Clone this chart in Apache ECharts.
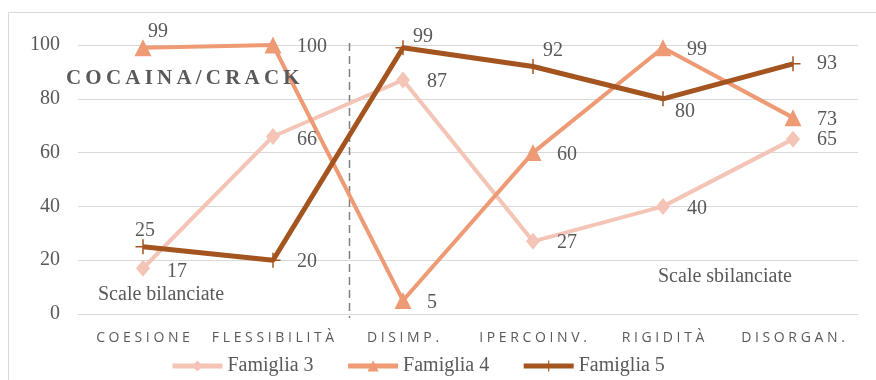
<!DOCTYPE html>
<html>
<head>
<meta charset="utf-8">
<script src="https://cdn.jsdelivr.net/npm/echarts@6/dist/echarts.min.js"></script>
<style>
  html, body { margin: 0; padding: 0; background: #fff; }
  #chart { width: 876px; height: 380px; }
</style>
</head>
<body>
<div id="chart"></div>
<script>
// Scale FACES: categories and family scores
const categories = ['COESIONE', 'FLESSIBILITÀ', 'DISIMP.', 'IPERCOINV.', 'RIGIDITÀ', 'DISORGAN.'];
const famiglia3 = [17, 66, 87, 27, 40, 65];
const famiglia4 = [99, 100, 5, 60, 99, 73];
const famiglia5 = [25, 20, 99, 92, 80, 93];
const seriesNames = ['Famiglia 3', 'Famiglia 4', 'Famiglia 5'];
const yTicks = [0, 20, 40, 60, 80, 100];

// label nudges [dx, dy] for each point, per series
const nudge3 = [[0, 3], [0, 3], [0, 2], [0, 1], [0, 2], [0, 1]];
const nudge4 = [[-19, -16], [0, 2], [0, 2], [0, 2], [0, 2], [0, 2]];
const nudge5 = [[-32, -16], [0, 2], [-14, -11], [-14, -16], [-12, 13], [0, 0]];

const SERIF = '"Liberation Serif", "Times New Roman", serif';
const SANS = '"Open Sans", "Noto Sans", sans-serif';
const GREY = '#595959';
const spaced = (s, gap) => s.split('').join(gap || '\u2009');

const plusPath = 'path://M9,0 H11 V9 H20 V11 H11 V20 H9 V11 H0 V9 H9 Z';

function buildData(values, nudges) {
  return values.map((v, i) => ({
    value: v,
    label: { offset: nudges[i] }
  }));
}

function lineSeries(name, values, nudges, color, symbol, size, width, dist) {
  return {
    name: name,
    type: 'line',
    data: buildData(values, nudges),
    symbol: symbol,
    symbolSize: size,
    showAllSymbol: true,
    lineStyle: { color: color, width: width },
    itemStyle: { color: color },
    label: {
      show: true,
      position: 'right',
      distance: dist,
      color: GREY,
      fontFamily: SERIF,
      fontSize: 20
    },
    emphasis: { disabled: true },
    animation: false
  };
}

const chart = echarts.init(document.getElementById('chart'), null, { renderer: 'canvas' });

const option = {
  backgroundColor: '#ffffff',
  animation: false,
  grid: { left: 78, right: 18, top: 45, bottom: 66 },
  legend: {
    data: seriesNames,
    left: 165,
    top: 351,
    itemWidth: 50,
    itemHeight: 14,
    itemGap: 32,
    lineStyle: { width: 5 },
    textStyle: { color: GREY, fontFamily: SERIF, fontSize: 20 }
  },
  xAxis: {
    type: 'category',
    data: categories,
    boundaryGap: true,
    axisLine: { show: true, lineStyle: { color: '#d9d9d9' } },
    axisTick: { show: false },
    axisLabel: {
      interval: 0,
      hideOverlap: false,
      margin: 17,
      color: GREY,
      fontFamily: SANS,
      fontSize: 14,
      formatter: v => spaced(v, ' ')
    }
  },
  yAxis: {
    type: 'value',
    min: yTicks[0],
    max: yTicks[yTicks.length - 1],
    interval: yTicks[1] - yTicks[0],
    axisLine: { show: false },
    axisTick: { show: false },
    splitLine: { lineStyle: { color: '#d9d9d9', width: 1 } },
    axisLabel: {
      margin: 18,
      color: GREY,
      fontFamily: SERIF,
      fontSize: 20
    }
  },
  series: [
    lineSeries(seriesNames[0], famiglia3, nudge3, '#F4C4B6', 'diamond', [14, 17], 4, 17),
    lineSeries(seriesNames[1], famiglia4, nudge4, '#EE9A74', 'triangle', 17, 4, 15.5),
    lineSeries(seriesNames[2], famiglia5, nudge5, '#A4541F', plusPath, 15, 5, 16.5)
  ]
};

chart.setOption(option);

// separator between balanced and unbalanced scales, plus frame and notes
const xa = chart.convertToPixel({ xAxisIndex: 0 }, categories[1]);
const xb = chart.convertToPixel({ xAxisIndex: 0 }, categories[2]);
const sepX = Math.round(xa + 0.585 * (xb - xa)) + 0.5;
const yTop = chart.convertToPixel({ yAxisIndex: 0 }, 100);
const yBot = chart.convertToPixel({ yAxisIndex: 0 }, 0);

chart.setOption({
  graphic: [
    {
      type: 'rect',
      silent: true,
      z: -10,
      shape: { x: 8.5, y: 12.5, width: 900, height: 400 },
      style: { fill: 'none', stroke: '#d9d9d9', lineWidth: 1 }
    },
    {
      type: 'line',
      silent: true,
      z: 1,
      shape: { x1: sepX, y1: yTop - 2, x2: sepX, y2: yBot + 4 },
      style: { stroke: '#7f7f7f', lineWidth: 1.5, lineDash: [8, 5] }
    },
    {
      type: 'text',
      z: 100,
      left: 66,
      top: 68,
      style: {
        text: spaced('COCAINA/CRACK'),
        fill: GREY,
        font: 'bold 21px ' + SERIF
      }
    },
    {
      type: 'text',
      z: 100,
      x: 98,
      y: 295,
      style: {
        text: 'Scale bilanciate',
        fill: GREY,
        font: '20px ' + SERIF,
        textVerticalAlign: 'middle'
      }
    },
    {
      type: 'text',
      z: 100,
      x: 658,
      y: 277,
      style: {
        text: 'Scale sbilanciate',
        fill: GREY,
        font: '20px ' + SERIF,
        textVerticalAlign: 'middle'
      }
    }
  ]
});
</script>
</body>
</html>
